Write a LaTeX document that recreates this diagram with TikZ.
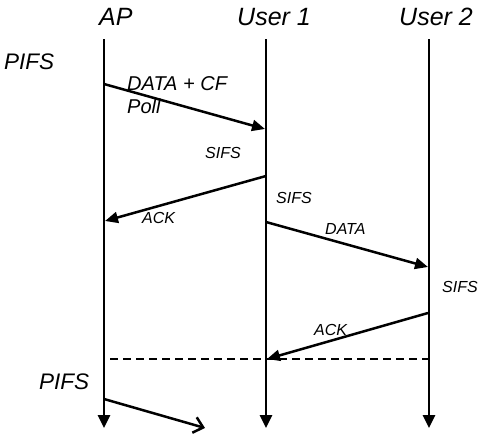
\documentclass[tikz,border=0pt]{standalone}
\usepackage{fontspec}
\setmainfont{Liberation Sans}
\usetikzlibrary{arrows.meta}
\begin{document}
\begin{tikzpicture}[x=1pt,y=-1pt,
 life/.style={line width=2.8pt,-{Triangle[length=13pt,width=12pt]}},
 msg/.style={line width=2.5pt,-{Triangle[length=13pt,width=11pt]}},
 openmsg/.style={line width=2.5pt,-{Straight Barb[length=9pt,width=16pt,line width=2.5pt]}},
 sep/.style={line width=1.4pt,dash pattern=on 8pt off 5pt},
 head/.style={font=\fontsize{25}{30}\selectfont\itshape,anchor=base west,inner sep=0pt},
 big/.style={font=\fontsize{22.5}{27}\selectfont\itshape,anchor=base west,inner sep=0pt},
 mid/.style={font=\fontsize{20}{24}\selectfont\itshape,anchor=base west,inner sep=0pt},
 small/.style={font=\fontsize{16}{19}\selectfont\itshape,anchor=base west,inner sep=0pt}]
\useasboundingbox (0,0) rectangle (488,434);
% headers
\node[head] (hAP) at (99,25) {AP};
\node[head] (hU1) at (237,25) {User 1};
\node[head] (hU2) at (399,25) {User 2};
% lifelines
\coordinate (apT) at (104,39);  \coordinate (apB) at (104,428);
\coordinate (u1T) at (266,39);  \coordinate (u1B) at (266,428);
\coordinate (u2T) at (429,39);  \coordinate (u2B) at (429,428);
\draw[life] (apT) -- (apB);
\draw[life] (u1T) -- (u1B);
\draw[life] (u2T) -- (u2B);
% messages
\coordinate (m1s) at (104,84);  \coordinate (m1e) at (265,129);
\coordinate (m2s) at (266,176); \coordinate (m2e) at (105,221);
\coordinate (m3s) at (266,222); \coordinate (m3e) at (428,267);
\coordinate (m4s) at (428,313); \coordinate (m4e) at (267,359);
\coordinate (d1) at (110,359);  \coordinate (d2) at (428,359);
\coordinate (m5s) at (104,399); \coordinate (m5e) at (205,428);
\draw[msg] (m1s) -- (m1e);
\draw[msg] (m2s) -- (m2e);
\draw[msg] (m3s) -- (m3e);
\draw[msg] (m4s) -- (m4e);
\draw[sep] (d1) -- (d2);
\draw[openmsg] (m5s) -- (m5e);
% labels
\node[big] (pifs1) at (4,69) {PIFS};
\node[mid] (l1a) at (127,90) {DATA + CF};
\node[mid] (l1b) at (127,113) {Poll};
\node[small] (s1) at (205,158) {SIFS};
\node[small] (a1) at (142,223) {ACK};
\node[small] (s2) at (276,203) {SIFS};
\node[small] (l3) at (325,234) {DATA};
\node[small] (s3) at (442,292) {SIFS};
\node[small] (a2) at (314,335) {ACK};
\node[big] (pifs2) at (39,389) {PIFS};
\end{tikzpicture}
\end{document}
